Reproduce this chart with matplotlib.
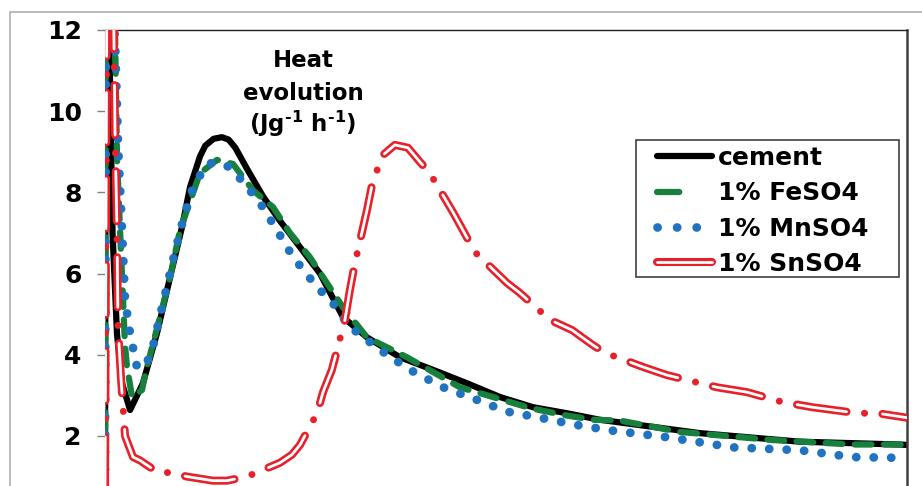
import matplotlib
matplotlib.use("Agg")
import matplotlib.pyplot as plt
import matplotlib.patheffects as pe
from matplotlib.lines import Line2D
from matplotlib.patches import Rectangle

plt.rcParams['font.family'] = ['DejaVu Sans']
plt.rcParams['font.weight'] = 'bold'
plt.rcParams['mathtext.fontset'] = 'custom'
plt.rcParams['mathtext.rm'] = 'DejaVu Sans:bold'
plt.rcParams['mathtext.it'] = 'DejaVu Sans:bold'
plt.rcParams['mathtext.bf'] = 'DejaVu Sans:bold'
plt.rcParams['lines.scale_dashes'] = False

# Datos (tiempo en horas, calor en J/g/h)
t_cem = [0.0, 0.05, 0.25, 0.45, 0.72, 1.02, 1.5, 2.27, 3.11, 3.89, 4.61, 5.09, 5.68,
         6.0, 6.5, 7.0, 7.4, 7.8, 8.5, 9.46, 10.47, 11.49, 12.87, 14.24, 15.68, 17.65,
         19.63, 21.66, 23.64, 25.61, 27.65, 29.62, 35.61, 41.59, 47.58, 48.0]
q_cem = [0.5, 14.0, 12.0, 7.0, 4.5, 3.3, 2.64, 3.3, 4.53, 5.9, 7.15, 8.13, 8.88,
         9.15, 9.32, 9.36, 9.3, 9.1, 8.58, 7.9, 7.3, 6.75, 6.0, 4.93, 4.43, 3.94,
         3.63, 3.3, 2.96, 2.71, 2.56, 2.4, 2.07, 1.86, 1.79, 1.78]

t_fe = [0.0, 0.06, 0.6, 0.72, 1.2, 1.32, 1.62, 2.21, 2.51, 3.29, 3.89, 4.49, 5.68,
        6.7, 7.66, 8.86, 10.05, 11.07, 12.27, 14.24, 15.68, 18.07, 21.24, 23.22,
        25.43, 27.41, 29.2, 30.82, 34.41, 39.98, 44.76, 48.0]
q_fe = [0.5, 14.0, 12.0, 8.8, 4.2, 3.7, 2.96, 3.13, 3.7, 4.93, 5.9, 7.07, 8.47,
        8.8, 8.7, 8.05, 7.64, 7.0, 6.4, 5.17, 4.43, 3.94, 3.2, 2.96,
        2.69, 2.52, 2.4, 2.38, 2.1, 1.9, 1.79, 1.79]

t_mn = [0.0, 0.06, 0.6, 0.78, 1.02, 1.2, 1.5, 1.91, 2.39, 2.81, 3.47, 4.07, 4.67,
        5.27, 6.1, 6.7, 7.48, 8.26, 9.28, 10.29, 11.25, 12.69, 13.64, 14.66, 16.46,
        18.25, 20.23, 22.26, 24.06, 26.03, 28.25, 30.22, 33.63, 37.58, 41.59,
        44.76, 48.0]
q_mn = [0.5, 14.0, 11.8, 9.2, 7.07, 5.35, 4.53, 3.7, 3.7, 4.1, 5.27, 6.33, 7.32,
        8.13, 8.7, 8.74, 8.62, 8.26, 7.74, 7.07, 6.41, 5.67, 5.27, 4.69, 4.12,
        3.63, 3.2, 2.89, 2.6, 2.45, 2.27, 2.14, 1.97, 1.72, 1.65,
        1.48, 1.46]

t_sn = [0.0, 0.12, 0.5, 0.6, 0.72, 0.78, 0.96, 1.2, 1.68, 2.09, 3.17, 3.89, 4.91,
        6.46, 7.3, 8.5, 10.47, 11.19, 11.67, 12.69, 13.05, 13.58, 14.36, 14.66,
        14.96, 15.68, 15.98, 16.58, 17.35, 18.13, 18.85, 19.45, 20.83, 21.42,
        22.14, 24.06, 24.84, 26.63, 27.95, 29.2, 29.92, 32.2, 33.63, 36.62,
        38.42, 40.51, 42.31, 45.06, 46.26, 48.0]
q_sn = [0.5, 14.0, 13.0, 9.5, 7.0, 4.7, 3.4, 2.0, 1.48, 1.4, 1.1, 1.1, 1.0,
        0.9, 0.9, 1.0, 1.34, 1.54, 1.78, 2.56, 3.08, 3.63, 4.86, 5.6,
        6.26, 7.56, 8.18, 8.9, 9.17, 9.1, 8.75, 8.47, 7.51, 7.07,
        6.53, 5.77, 5.52, 4.86, 4.61, 4.24, 4.05, 3.7, 3.5, 3.2,
        3.08, 2.84, 2.71, 2.56, 2.56, 2.45]

labels = ['cement', '1% FeSO4', '1% MnSO4', '1% SnSO4']
yticks = [2, 4, 6, 8, 10, 12]

c_black = '#000000'
c_green = '#17803d'
c_blue = '#1f73c1'
c_red = '#e8202a'

fig = plt.figure(figsize=(9.22, 4.86), dpi=100)
ax = fig.add_axes([105 / 922, -0.0642, 802 / 922, 1.0025])

ax.plot(t_cem, q_cem, color=c_black, lw=4.5, solid_joinstyle='round',
        solid_capstyle='round', zorder=2)
ax.plot(t_fe, q_fe, color=c_green, lw=4.5, linestyle=(0, (12, 9)),
        dash_capstyle='round', zorder=3)
ax.plot(t_mn, q_mn, color=c_blue, lw=6.3, linestyle=(0, (0.1, 12.5)),
        dash_capstyle='round', zorder=4)
# SnSO4: trazos huecos + puntos rojos
ax.plot(t_sn, q_sn, color='white', lw=2.0, linestyle=(0, (36, 26)),
        dash_capstyle='round',
        path_effects=[pe.Stroke(linewidth=5.8, foreground=c_red), pe.Normal()],
        zorder=5)
ax.plot(t_sn, q_sn, color=c_red, lw=5.0, linestyle=(13, (0.1, 61.9)),
        dash_capstyle='round', zorder=5)

ax.set_xlim(0, 48)
ax.set_ylim(0, 12)
ax.set_yticks(yticks)
ax.set_xticks([])
ax.tick_params(axis='y', direction='out', length=5.8, width=1, color='#808080',
               labelsize=18, pad=11)
for lab in ax.get_yticklabels():
    lab.set_fontweight('bold')
ax.spines['left'].set_color('#808080')
ax.spines['top'].set_color('#202020')
ax.spines['top'].set_linewidth(1.0)
ax.spines['right'].set_color('#404040')
ax.spines['right'].set_linewidth(1.8)
ax.spines['bottom'].set_visible(False)

# Rótulo del eje Y dentro del gráfico
fig.text(303 / 922, 1 - 77 / 486, 'Heat\nevolution',
         ha='center', va='center', fontsize=16.5, fontweight='bold', linespacing=1.55)
fig.text(303 / 922, 1 - 124 / 486, '(Jg$^{\\text{-1}}$ h$^{\\text{-1}}$)',
         ha='center', va='center', fontsize=16.5, fontweight='bold')

# Leyenda
h_cem = Line2D([], [], color=c_black, lw=4.5, solid_capstyle='round')
h_fe = Line2D([], [], color=c_green, lw=4.5, linestyle=(0, (16, 60)),
              dash_capstyle='round')
h_mn = Line2D([], [], color=c_blue, lw=6.3, linestyle=(0, (0.1, 14)),
              dash_capstyle='round')
h_sn = Line2D([], [], color='white', lw=2.0, solid_capstyle='round',
              path_effects=[pe.Stroke(linewidth=5.8, foreground=c_red), pe.Normal()])
ax.legend([h_cem, h_fe, h_mn, h_sn], labels, loc='upper left',
          bbox_to_anchor=(657 / 922, 1 - 146 / 486), bbox_transform=fig.transFigure,
          frameon=False, borderpad=0, borderaxespad=0, handlelength=2.2,
          handletextpad=0.25, labelspacing=0.45,
          prop={'size': 18, 'weight': 'bold'})
fig.add_artist(Rectangle((636 / 922, 1 - 277 / 486), 263 / 922, 137 / 486,
                         transform=fig.transFigure, fill=False,
                         edgecolor='#404040', lw=1.2))

# Marco gris exterior
fig.add_artist(Rectangle((10 / 922, -0.1), 1.1, 1 - 12 / 486 + 0.1,
                         transform=fig.transFigure, fill=False,
                         edgecolor='#b0b0b0', lw=1.2))

fig.savefig('out.png', dpi=100)
